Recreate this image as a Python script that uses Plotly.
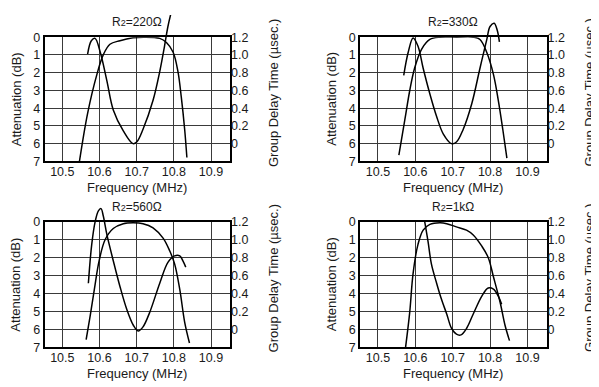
import plotly.graph_objects as go

W, H = 599, 387
OFF = 8  # page body margin in front of the figure div
FW, FH = W - OFF, H - OFF

freq_ticks = [10.5, 10.6, 10.7, 10.8, 10.9]
freq_labels = ["10.5", "10.6", "10.7", "10.8", "10.9"]
atten_ticks = [0, 1, 2, 3, 4, 5, 6, 7]
delay_ticks = [0, 0.2, 0.4, 0.6, 0.8, 1.0, 1.2]
delay_labels = ["0", "0.2", "0.4", "0.6", "0.8", "1.0", "1.2"]

r2_values = ["220Ω", "330Ω", "560Ω", "1kΩ"]

# R2 = 220 ohm
att_220_f = [10.546, 10.568, 10.593, 10.610, 10.628, 10.655, 10.69, 10.72, 10.762, 10.78, 10.798, 10.811, 10.82, 10.829, 10.835]
att_220_db = [7.0, 4.29, 2.1, 1.0, 0.4, 0.2, 0.04, 0.0, 0.07, 0.3, 0.85, 1.94, 3.38, 5.19, 6.78]
gd_220_f = [10.568, 10.578, 10.588, 10.602, 10.62, 10.637, 10.664, 10.69, 10.70, 10.717, 10.744, 10.762, 10.775, 10.784, 10.794]
gd_220_us = [1.01, 1.16, 1.186, 1.03, 0.704, 0.38, 0.144, 0.0, 0.018, 0.162, 0.488, 0.812, 1.102, 1.32, 1.50]

# R2 = 330 ohm
att_330_f = [10.556, 10.572, 10.585, 10.598, 10.617, 10.639, 10.666, 10.71, 10.755, 10.773, 10.791, 10.809, 10.822, 10.834, 10.845]
att_330_db = [6.64, 4.65, 3.02, 1.75, 0.67, 0.13, 0.0, 0.0, 0.0, 0.13, 0.85, 2.1, 3.56, 5.19, 6.82]
gd_330_f = [10.569, 10.581, 10.594, 10.607, 10.621, 10.639, 10.657, 10.675, 10.697, 10.71, 10.728, 10.751, 10.773, 10.791, 10.80, 10.811, 10.819, 10.825]
gd_330_us = [0.77, 1.03, 1.19, 1.10, 0.85, 0.56, 0.306, 0.108, 0.0, 0.018, 0.16, 0.45, 0.85, 1.17, 1.32, 1.356, 1.28, 1.146]

# R2 = 560 ohm
att_560_f = [10.564, 10.575, 10.586, 10.599, 10.615, 10.637, 10.664, 10.691, 10.717, 10.744, 10.771, 10.789, 10.802, 10.816, 10.829, 10.842]
att_560_db = [6.58, 5.23, 3.78, 2.16, 0.99, 0.36, 0.09, 0.04, 0.09, 0.32, 0.9, 1.62, 2.34, 3.78, 5.59, 6.76]
gd_560_f = [10.570, 10.579, 10.588, 10.597, 10.604, 10.61, 10.62, 10.637, 10.655, 10.673, 10.691, 10.704, 10.717, 10.735, 10.762, 10.784, 10.802, 10.816, 10.824, 10.832]
gd_560_us = [0.516, 0.948, 1.2, 1.326, 1.35, 1.27, 1.056, 0.768, 0.48, 0.228, 0.046, -0.018, 0.028, 0.19, 0.516, 0.75, 0.822, 0.822, 0.768, 0.696]

# R2 = 1k ohm
att_1k_f = [10.574, 10.585, 10.594, 10.607, 10.621, 10.639, 10.666, 10.684, 10.71, 10.737, 10.755, 10.778, 10.795, 10.809, 10.827, 10.84, 10.852]
att_1k_db = [6.99, 5.05, 2.88, 1.26, 0.45, 0.13, 0.04, 0.09, 0.27, 0.45, 0.72, 1.35, 1.98, 3.06, 4.5, 5.77, 6.63]
gd_1k_f = [10.625, 10.634, 10.643, 10.657, 10.67, 10.684, 10.697, 10.71, 10.722, 10.737, 10.755, 10.778, 10.795, 10.809, 10.822, 10.831]
gd_1k_us = [1.208, 0.984, 0.732, 0.516, 0.336, 0.172, 0.01, -0.054, -0.062, 0.01, 0.172, 0.372, 0.462, 0.45, 0.372, 0.28]

panels = [
    (att_220_f, att_220_db, gd_220_f, gd_220_us),
    (att_330_f, att_330_db, gd_330_f, gd_330_us),
    (att_560_f, att_560_db, gd_560_f, gd_560_us),
    (att_1k_f, att_1k_db, gd_1k_f, gd_1k_us),
]

# frame of each panel in page pixels: left, top, right, bottom
frames = [(44.5, 31, 230, 160), (360, 31, 546.5, 160),
          (44.5, 223, 230, 353), (360, 223, 546.5, 353)]
EXT = 28  # extra room above the frame so delay peaks are not clipped

FONT = "Liberation Sans, Arial, sans-serif"
TXT = "#1a1a1a"
GRID = "#3a3a3a"


def px_x(p):
    return (p - OFF) / FW


def px_y(p):
    return 1 - (p - OFF) / FH


def nm(prefix, i):
    return prefix + ("" if i == 1 else str(i))


def label(text, x, y, size=13, angle=0):
    return dict(text=text, x=px_x(x), y=px_y(y), xref="paper", yref="paper",
                xanchor="center", yanchor="middle", textangle=angle, borderpad=0,
                showarrow=False, font=dict(size=size, color=TXT))


fig = go.Figure()
layout = {}
annotations = []

for k, ((af, adb, gf, gus), (l, t, r, b), r2) in enumerate(zip(panels, frames, r2_values)):
    n = k + 1
    xa, ya, yb, xb = n, 2 * n - 1, 2 * n, n + 4
    ext = min(EXT, t - OFF)
    xd = [px_x(l), px_x(r)]
    yd = [px_y(b), px_y(t)]
    yd2 = [px_y(b), px_y(t - ext)]
    unit = (b - t) / 1.4
    r2top = 1.2 + ext / unit

    fig.add_trace(go.Scatter(x=af, y=adb, mode="lines", line=dict(color="black", width=1.5, shape="spline"),
                             xaxis=nm("x", xa), yaxis=nm("y", ya), showlegend=False, hoverinfo="skip"))
    fig.add_trace(go.Scatter(x=gf, y=gus, mode="lines", line=dict(color="black", width=1.5, shape="spline"),
                             xaxis=nm("x", xb), yaxis=nm("y", yb), showlegend=False, hoverinfo="skip"))

    layout[nm("xaxis", xa)] = dict(
        domain=xd, anchor=nm("y", ya), range=[10.452, 10.951],
        tickvals=freq_ticks, ticktext=freq_labels, ticks="", ticklabelstandoff=-2,
        showgrid=True, gridcolor=GRID, gridwidth=1.3, zeroline=False,
        showline=True, linecolor="black", linewidth=1.5, mirror=True,
        tickfont=dict(size=12.5, color=TXT))
    layout[nm("yaxis", ya)] = dict(
        domain=yd, anchor=nm("x", xa), range=[7, 0],
        tickvals=atten_ticks, ticks="",
        showgrid=True, gridcolor=GRID, gridwidth=1.3, zeroline=False,
        showline=True, linecolor="black", linewidth=1.5, mirror=True,
        tickfont=dict(size=12.5, color=TXT))
    layout[nm("xaxis", xb)] = dict(domain=xd, anchor=nm("y", yb), range=[10.452, 10.951], visible=False)
    layout[nm("yaxis", yb)] = dict(
        domain=yd2, anchor=nm("x", xb), side="right", range=[-0.2, r2top],
        tickvals=delay_ticks, ticktext=delay_labels, ticks="",
        showgrid=False, zeroline=False, showline=False,
        tickfont=dict(size=12.5, color=TXT))

    annotations.append(label("R<span style='font-size:9px'>2</span>=" + r2, (l + r) / 2, t - 16, size=12))
    annotations.append(label("Frequency (MHz)", (l + r) / 2, b + 27))
    annotations.append(label("Attenuation (dB)", l - 28.5, (t + b) / 2, angle=-90))
    annotations.append(label("Group Delay Time (µsec.)", r + 43, (t + b - 13) / 2, angle=-90))

fig.update_layout(
    width=FW, height=FH,
    margin=dict(l=0, r=0, t=0, b=0),
    paper_bgcolor="white", plot_bgcolor="rgba(0,0,0,0)",
    font=dict(family=FONT, color=TXT),
    annotations=annotations,
    **layout)

fig.write_html("out.html")
